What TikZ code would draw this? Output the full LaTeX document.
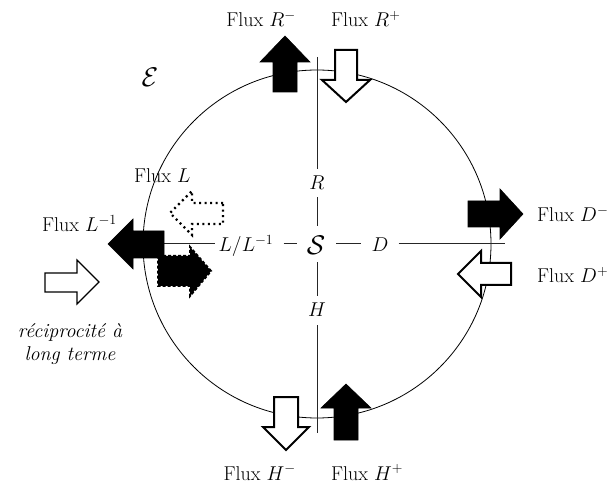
\RequirePackage{fix-cm}
\documentclass[tikz,border=0pt]{standalone}
\begin{document}
\begin{tikzpicture}[x=1pt,y=-1pt,
  font=\fontsize{20}{24}\selectfont,
  lbl/.style={inner sep=0pt},
  big/.style={inner sep=0pt,font=\fontsize{27}{30}\selectfont},
  axisline/.style={line width=0.7pt,draw=black!85},
  ring/.style={line width=0.8pt},
  blackarrow/.style={fill=black,draw=black,line width=0.6pt,line join=miter},
  whitearrow/.style={fill=white,draw=black,line width=2pt,line join=miter},
  thinarrow/.style={fill=white,draw=black,line width=1.2pt,line join=miter},
  dotarrow/.style={fill=white,draw=black,line width=2.2pt,dash pattern=on 2pt off 3.5pt},
  darkarrow/.style={fill=black,draw=black,line width=2pt,dash pattern=on 3pt off 2pt}]
\useasboundingbox (0,0) rectangle (608,486);

% circle (environment)
\draw[ring] (317,244) circle[radius=174];

% centre labels
\node[big] (S) at (316,245) {$\mathcal{S}$};
\node[lbl,anchor=base] (R) at (317,190) {$R$};
\node[lbl,anchor=base] (H) at (317,317) {$H$};
\node[lbl,anchor=base] (D) at (380,252) {$D$};
\node[lbl,anchor=base] (LL) at (246,252) {$L/L^{-1}$};
\node[big] (E) at (150,77) {$\mathcal{E}$};

\coordinate (vtop) at (317,57);
\coordinate (vbot) at (317,433);
\coordinate (hleft) at (164,243);
\coordinate (hright) at (505,243);

% vertical axis
\draw[axisline] (vtop) -- ([yshift=7pt]R.north -| vtop);
\draw[axisline] ([yshift=-7pt]R.south -| vtop) -- ([yshift=10pt]S.north -| vtop);
\draw[axisline] ([yshift=-8pt]S.south -| vtop) -- ([yshift=7pt]H.north -| vtop);
\draw[axisline] ([yshift=-8pt]H.south -| vtop) -- (vbot);
% horizontal axis
\draw[axisline] (hleft) -- ([xshift=-3pt]LL.west |- hleft);
\draw[axisline] ([xshift=10pt]LL.east |- hleft) -- ([xshift=-10pt]S.west |- hleft);
\draw[axisline] ([xshift=11pt]S.east |- hleft) -- ([xshift=-10pt]D.west |- hleft);
\draw[axisline] ([xshift=10pt]D.east |- hleft) -- (hright);

% R arrows
\draw[blackarrow] (273,92) -- (273,62) -- (260,62) -- (285,36) -- (310,62) -- (297,62) -- (297,92) -- cycle;
\draw[whitearrow] (335,50) -- (335,80) -- (322,80) -- (346,102) -- (370,80) -- (357,80) -- (357,50) -- cycle;
% H arrows
\draw[whitearrow] (274,397) -- (274,427) -- (263,427) -- (286,450) -- (309,427) -- (298,427) -- (298,397) -- cycle;
\draw[blackarrow] (334,440) -- (334,408) -- (321,408) -- (346,384) -- (371,408) -- (358,408) -- (358,440) -- cycle;
% D arrows
\draw[blackarrow] (468,201) -- (500,201) -- (500,189) -- (523,214) -- (500,239) -- (500,227) -- (468,227) -- cycle;
\draw[whitearrow] (511,263) -- (481,263) -- (481,251) -- (458,274) -- (481,297) -- (481,285) -- (511,285) -- cycle;
% L^-1 arrow
\draw[blackarrow] (164,231) -- (133,231) -- (133,219) -- (108,244) -- (133,269) -- (133,258) -- (164,258) -- cycle;
% Flux L (dotted)
\draw[dotarrow] (223,203) -- (192,203) -- (192,191) -- (170,213) -- (192,235) -- (192,224) -- (223,224) -- cycle;
% reciprocal dark dashed arrow
\draw[darkarrow] (158,256) -- (190,256) -- (190,247) -- (211,271) -- (190,296) -- (190,286) -- (158,286) -- cycle;
% long term reciprocity arrow
\draw[thinarrow] (45,273) -- (77,273) -- (77,260) -- (99,282) -- (77,304) -- (77,292) -- (45,292) -- cycle;

% flux labels
\node[lbl,anchor=base east] (fRm) at (296,27) {Flux $R^{-}$};
\node[lbl,anchor=base west] (fRp) at (331,27) {Flux $R^{+}$};
\node[lbl,anchor=base east] (fHm) at (296,480) {Flux $H^{-}$};
\node[lbl,anchor=base west] (fHp) at (331,480) {Flux $H^{+}$};
\node[lbl,anchor=base west] (fDm) at (537,222) {Flux $D^{-}$};
\node[lbl,anchor=base west] (fDp) at (537,283) {Flux $D^{+}$};
\node[lbl,anchor=base west] (fL1) at (42,232) {Flux $L^{-1}$};
\node[lbl,anchor=base west] (fL) at (134,183) {Flux $L$};
\node[lbl,anchor=base,font=\fontsize{20}{24}\selectfont\itshape] (rec1) at (70,338) {réciprocité à};
\node[lbl,anchor=base,font=\fontsize{20}{24}\selectfont\itshape] (rec2) at (70,360) {long terme};
\end{tikzpicture}
\end{document}
